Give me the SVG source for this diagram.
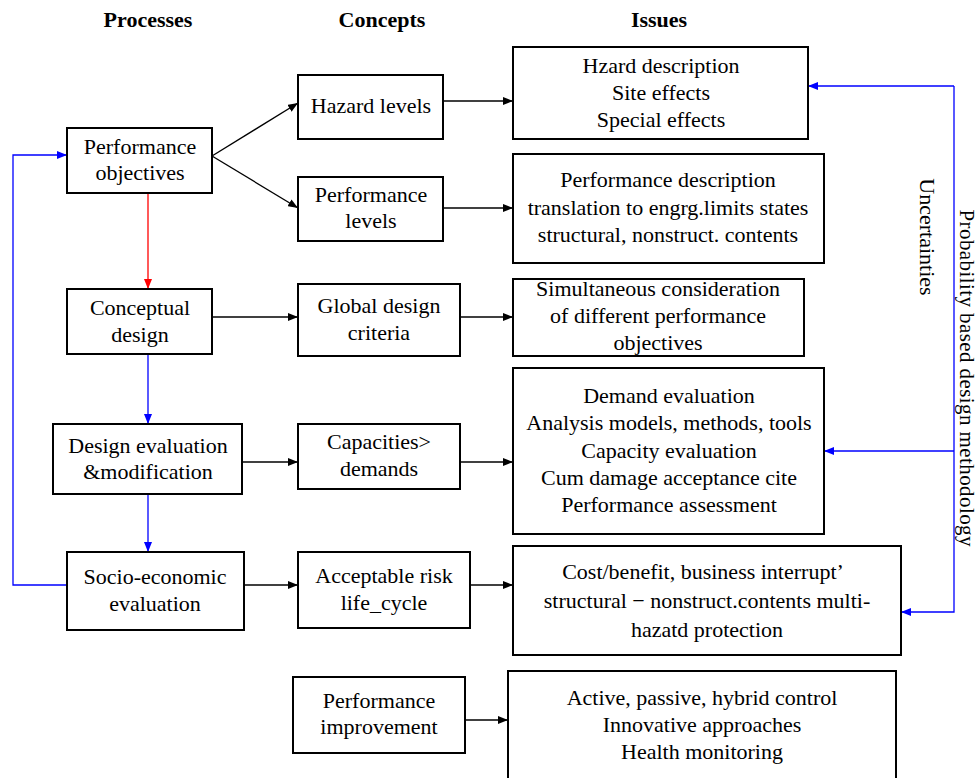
<svg xmlns="http://www.w3.org/2000/svg" width="979" height="778" viewBox="0 0 979 778">
<style>
  .box { fill: #fff; stroke: #000; stroke-width: 2; }
  text { font-family: "Liberation Serif", "Times New Roman", serif; font-size: 22px; fill: #000; text-anchor: middle; }
  .hdr { font-weight: bold; font-size: 22px; }
  .k { stroke: #000; stroke-width: 1.3; fill: none; }
  .b { stroke: #0000ff; stroke-width: 1.3; fill: none; }
  .r { stroke: #ff0000; stroke-width: 1.3; fill: none; }
</style>
<defs>
  <marker id="ak" viewBox="0 0 10 8" refX="10" refY="4" markerWidth="10" markerHeight="8" markerUnits="userSpaceOnUse" orient="auto"><path d="M0,0 L10,4 L0,8 Z" fill="#000"/></marker>
  <marker id="ab" viewBox="0 0 10 8" refX="10" refY="4" markerWidth="10" markerHeight="8" markerUnits="userSpaceOnUse" orient="auto"><path d="M0,0 L10,4 L0,8 Z" fill="#0000ff"/></marker>
  <marker id="ar" viewBox="0 0 10 8" refX="10" refY="4" markerWidth="10" markerHeight="8" markerUnits="userSpaceOnUse" orient="auto"><path d="M0,0 L10,4 L0,8 Z" fill="#ff0000"/></marker>
</defs>
<rect width="979" height="778" fill="#fff"/>

<g id="headers">
  <text class="hdr" x="148" y="27">Processes</text>
  <text class="hdr" x="382" y="27">Concepts</text>
  <text class="hdr" x="659" y="27">Issues</text>
</g>

<g id="connectors">
  <line class="k" x1="212" y1="156" x2="298" y2="103" marker-end="url(#ak)"/>
  <line class="k" x1="212" y1="156" x2="298" y2="208" marker-end="url(#ak)"/>
  <line class="k" x1="443" y1="101" x2="513" y2="101" marker-end="url(#ak)"/>
  <line class="k" x1="443" y1="208" x2="513" y2="208" marker-end="url(#ak)"/>
  <line class="r" x1="148" y1="193" x2="148" y2="289" marker-end="url(#ar)"/>
  <line class="k" x1="212" y1="317" x2="298" y2="317" marker-end="url(#ak)"/>
  <line class="k" x1="460" y1="317" x2="513" y2="317" marker-end="url(#ak)"/>
  <line class="b" x1="148" y1="354" x2="148" y2="424" marker-end="url(#ab)"/>
  <line class="k" x1="242" y1="462" x2="298" y2="462" marker-end="url(#ak)"/>
  <line class="k" x1="460" y1="462" x2="513" y2="462" marker-end="url(#ak)"/>
  <line class="b" x1="148" y1="494" x2="148" y2="552" marker-end="url(#ab)"/>
  <line class="k" x1="244" y1="585" x2="298" y2="585" marker-end="url(#ak)"/>
  <line class="k" x1="470" y1="585" x2="513" y2="585" marker-end="url(#ak)"/>
  <line class="k" x1="465" y1="720" x2="508" y2="720" marker-end="url(#ak)"/>
  <polyline class="b" points="67,585 13,585 13,155 67,155" marker-end="url(#ab)"/>
  <polyline class="b" points="954,86 954,612 901,612" marker-end="url(#ab)"/>
  <line class="b" x1="954" y1="86" x2="808" y2="86" marker-end="url(#ab)"/>
  <line class="b" x1="954" y1="451" x2="824" y2="451" marker-end="url(#ab)"/>
</g>

<g id="performance-objectives">
  <rect class="box" x="67" y="128" width="145" height="65"/>
  <text x="140" y="154">Performance</text>
  <text x="140" y="180">objectives</text>
</g>
<g id="conceptual-design">
  <rect class="box" x="67" y="289" width="145" height="65"/>
  <text x="140" y="315">Conceptual</text>
  <text x="140" y="342">design</text>
</g>
<g id="design-evaluation">
  <rect class="box" x="53" y="424" width="189" height="70"/>
  <text x="148" y="453">Design evaluation</text>
  <text x="148" y="479">&amp;modification</text>
</g>
<g id="socio-economic">
  <rect class="box" x="67" y="552" width="177" height="78"/>
  <text x="155" y="584">Socio-economic</text>
  <text x="155" y="611">evaluation</text>
</g>

<g id="hazard-levels">
  <rect class="box" x="298" y="75" width="145" height="64"/>
  <text x="371" y="113">Hazard levels</text>
</g>
<g id="performance-levels">
  <rect class="box" x="298" y="177" width="145" height="64"/>
  <text x="371" y="202">Performance</text>
  <text x="371" y="228">levels</text>
</g>
<g id="global-design-criteria">
  <rect class="box" x="298" y="284" width="162" height="72"/>
  <text x="379" y="313">Global design</text>
  <text x="379" y="340">criteria</text>
</g>
<g id="capacities">
  <rect class="box" x="298" y="424" width="162" height="65"/>
  <text x="379" y="449">Capacities&gt;</text>
  <text x="379" y="476">demands</text>
</g>
<g id="acceptable-risk">
  <rect class="box" x="298" y="552" width="172" height="76"/>
  <text x="384" y="583">Acceptable risk</text>
  <text x="384" y="610">life_cycle</text>
</g>
<g id="performance-improvement">
  <rect class="box" x="293" y="677" width="172" height="76"/>
  <text x="379" y="708">Performance</text>
  <text x="379" y="734">improvement</text>
</g>

<g id="hazard-description">
  <rect class="box" x="513" y="47" width="295" height="92"/>
  <text x="661" y="73">Hzard description</text>
  <text x="661" y="100">Site effects</text>
  <text x="661" y="127">Special effects</text>
</g>
<g id="performance-description">
  <rect class="box" x="513" y="154" width="311" height="109"/>
  <text x="668" y="187">Performance description</text>
  <text x="668" y="215">translation to engrg.limits states</text>
  <text x="668" y="242">structural, nonstruct. contents</text>
</g>
<g id="simultaneous">
  <rect class="box" x="513" y="279" width="291" height="77"/>
  <text x="658" y="296">Simultaneous consideration</text>
  <text x="658" y="323">of different performance</text>
  <text x="658" y="350">objectives</text>
</g>
<g id="demand-evaluation">
  <rect class="box" x="513" y="368" width="311" height="166"/>
  <text x="669" y="403">Demand evaluation</text>
  <text x="669" y="430">Analysis models, methods, tools</text>
  <text x="669" y="458">Capacity evaluation</text>
  <text x="669" y="485">Cum damage acceptance cite</text>
  <text x="669" y="512">Performance assessment</text>
</g>
<g id="cost-benefit">
  <rect class="box" x="513" y="546" width="388" height="109"/>
  <text x="703" y="579">Cost/benefit, business interrupt’</text>
  <text x="707" y="608">structural  − nonstruct.contents multi-</text>
  <text x="707" y="637">hazatd protection</text>
</g>
<g id="active-control">
  <rect class="box" x="508" y="671" width="388" height="110"/>
  <text x="702" y="705">Active, passive, hybrid control</text>
  <text x="702" y="732">Innovative approaches</text>
  <text x="702" y="759">Health monitoring</text>
</g>

<g id="side-labels">
  <text transform="translate(920,237) rotate(90)">Uncertainties</text>
  <text transform="translate(960,378) rotate(90)" style="font-size:21px" textLength="337" lengthAdjust="spacing">Probability based design methodology</text>
</g>
</svg>
